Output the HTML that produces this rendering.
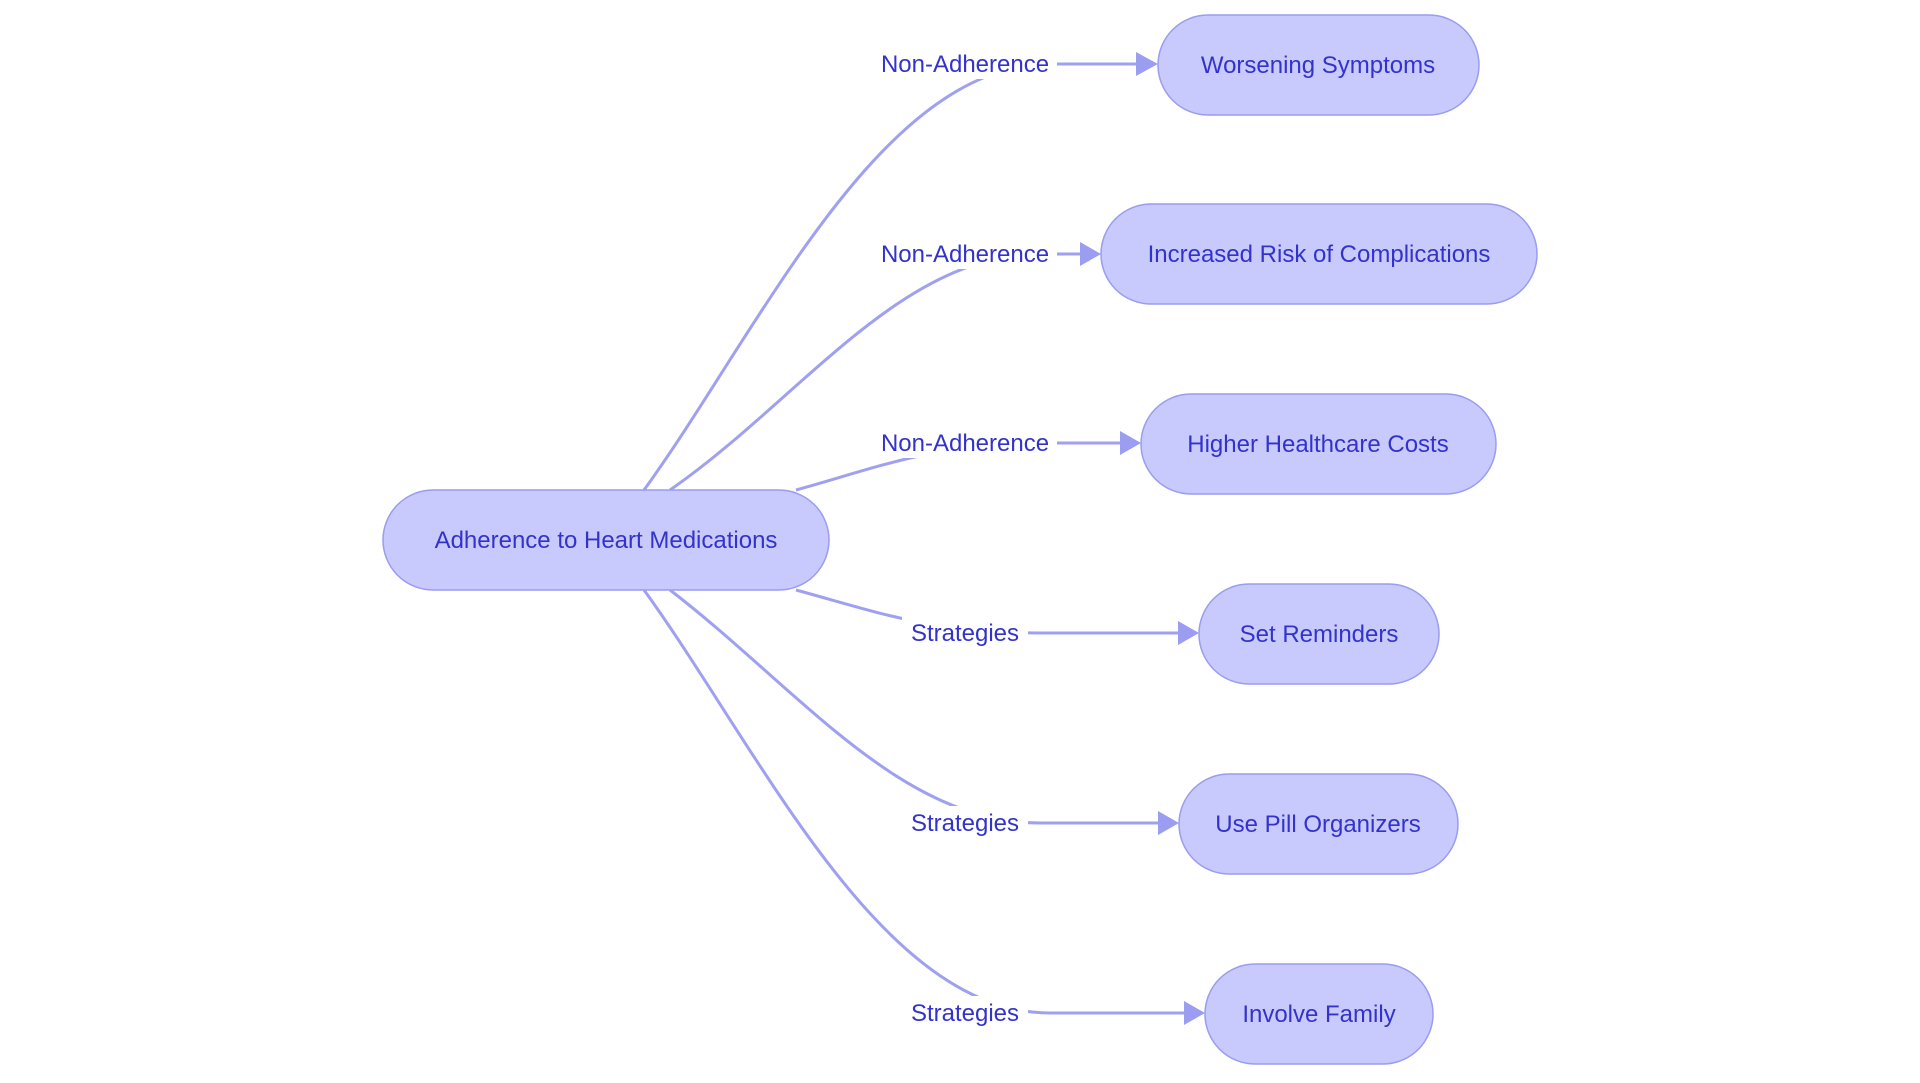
<!DOCTYPE html>
<html><head><meta charset="utf-8"><style>
html,body{margin:0;padding:0;background:#fff;width:1920px;height:1083px;overflow:hidden}
svg{display:block}
text{font-family:"Liberation Sans",sans-serif;font-size:24px;fill:#3333cc}
</style></head><body>
<svg width="1920" height="1083" viewBox="0 0 1920 1083" xmlns="http://www.w3.org/2000/svg">
<defs>
<marker id="a" viewBox="0 0 10 10" refX="9" refY="5" markerWidth="7" markerHeight="7" markerUnits="userSpaceOnUse" orient="auto" style="overflow:visible">
<path d="M0,0 L10,5 L0,10 z" fill="#9b9df0" transform="scale(2.4) translate(-5,-5) translate(5,5)"/>
</marker>
</defs>
<g fill="none" stroke="#9fa1f0" stroke-width="3">
<path d="M644,490 C760,330 880,64 1050,64 L1136,64"/>
<path d="M670,490 C800,400 900,254 1040,254 L1080,254"/>
<path d="M796,490 C870,470 930,444 1040,443 L1120,443"/>
<path d="M796,590 C870,610 930,633 1040,633 L1178,633"/>
<path d="M670,590 C800,690 900,823 1040,823 L1158,823"/>
<path d="M644,590 C760,750 880,1013 1050,1013 L1184,1013"/>
</g>
<g fill="#9b9df0">
<path d="M1136,52 L1158,64 L1136,76 z"/>
<path d="M1080,242 L1101,254 L1080,266 z"/>
<path d="M1120,431 L1141,443 L1120,455 z"/>
<path d="M1178,621 L1199,633 L1178,645 z"/>
<path d="M1158,811 L1179,823 L1158,835 z"/>
<path d="M1184,1001 L1205,1013 L1184,1025 z"/>
</g>
<g fill="#fff">
<rect x="873" y="47" width="184" height="32"/>
<rect x="873" y="237" width="184" height="32"/>
<rect x="873" y="426" width="184" height="32"/>
<rect x="902" y="616" width="126" height="32"/>
<rect x="902" y="806" width="126" height="32"/>
<rect x="902" y="996" width="126" height="32"/>
</g>
<g text-anchor="middle">
<text x="965" y="72">Non-Adherence</text>
<text x="965" y="262">Non-Adherence</text>
<text x="965" y="451">Non-Adherence</text>
<text x="965" y="641">Strategies</text>
<text x="965" y="831">Strategies</text>
<text x="965" y="1021">Strategies</text>
</g>
<g fill="#c8c9fc" stroke="#9a9cf0" stroke-width="1.5">
<rect x="383" y="490" width="446" height="100" rx="50"/>
<rect x="1158" y="15" width="321" height="100" rx="50"/>
<rect x="1101" y="204" width="436" height="100" rx="50"/>
<rect x="1141" y="394" width="355" height="100" rx="50"/>
<rect x="1199" y="584" width="240" height="100" rx="50"/>
<rect x="1179" y="774" width="279" height="100" rx="50"/>
<rect x="1205" y="964" width="228" height="100" rx="50"/>
</g>
<g text-anchor="middle">
<text x="606" y="548">Adherence to Heart Medications</text>
<text x="1318" y="73">Worsening Symptoms</text>
<text x="1319" y="262">Increased Risk of Complications</text>
<text x="1318" y="452">Higher Healthcare Costs</text>
<text x="1319" y="642">Set Reminders</text>
<text x="1318" y="832">Use Pill Organizers</text>
<text x="1319" y="1022">Involve Family</text>
</g>
</svg>
</body></html>
